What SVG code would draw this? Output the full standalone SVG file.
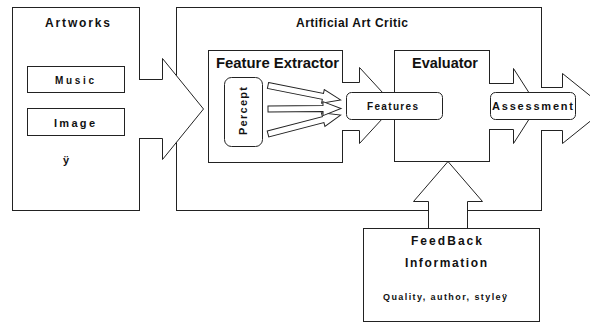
<svg xmlns="http://www.w3.org/2000/svg" width="590" height="323" viewBox="0 0 590 323">
<style>
.box{fill:#fff;stroke:#222;stroke-width:1}
.arr{fill:#fff;stroke:#222;stroke-width:1;stroke-linejoin:miter}
.t{font-family:"Liberation Sans",Arial,sans-serif;font-weight:bold;fill:#111}
.h{font-size:14px}
.m{font-size:12px}
.l{font-size:11px}
.n{font-size:10px}
.s{font-size:9px}
</style>
<rect width="590" height="323" fill="#fff"/>
<g id="artworks">
<rect class="box" x="12.5" y="7.5" width="127" height="203"/>
<text class="t m" x="45" y="27" textLength="65" lengthAdjust="spacing">Artworks</text>
</g>
<g id="music">
<rect class="box" x="27.5" y="66.5" width="97" height="26"/>
<text class="t n" x="55" y="84" textLength="39" lengthAdjust="spacing">Music</text>
</g>
<g id="image">
<rect class="box" x="27.5" y="108.5" width="97" height="27"/>
<text class="t l" x="54" y="127" textLength="41" lengthAdjust="spacing">Image</text>
<text class="t l" x="63" y="164">ÿ</text>
</g>
<g id="critic">
<rect class="box" x="176.5" y="7.5" width="365" height="203"/>
<text class="t m" x="296" y="27" textLength="112" lengthAdjust="spacing">Artificial Art Critic</text>
</g>
<g id="connectors">
<path class="arr" d="M139 79.5H162.5V58.5L203.5 109L162.5 159.5V138.5H139"/>
<path class="arr" d="M541 87.5H562.5V73.5L606 108.5L562.5 143.5V130.5H541"/>
<path class="arr" d="M428.5 229V201.5H413.5L448 161.5L482.5 201.5H467.5V229"/>
</g>
<g id="feature-extractor">
<rect class="box" x="208.5" y="50.5" width="134" height="112"/>
<text class="t h" x="216" y="68" textLength="123" lengthAdjust="spacingAndGlyphs">Feature Extractor</text>
</g>
<g id="evaluator">
<rect class="box" x="394.5" y="50.5" width="95" height="111"/>
<text class="t h" x="412" y="68" textLength="66" lengthAdjust="spacingAndGlyphs">Evaluator</text>
</g>
<g id="connectors-inner">
<path class="arr" d="M342 82.5H359.5V67.5L394.5 105.5L359.5 143.5V130.5H342"/>
<path class="arr" d="M489 83.5H513.5V68.5L537.5 106L513.5 143.5V129.5H489"/>
<polygon class="arr" transform="translate(268,85.5) rotate(11.2)" points="0,-3 56,-3 56,-7 74,0 56,7 56,3 0,3"/>
<polygon class="arr" transform="translate(268,134) rotate(-14.6)" points="0,-3 57,-3 57,-7 75,0 57,7 57,3 0,3"/>
<polygon class="arr" transform="translate(268,109) rotate(-0.4)" points="0,-3 55,-3 55,-7 73,0 55,7 55,3 0,3"/>
</g>
<g id="percept">
<rect class="box" x="224.5" y="77.5" width="38" height="69" rx="7"/>
<text class="t l" transform="translate(247,135) rotate(-90)" x="0" y="0" textLength="48" lengthAdjust="spacing">Percept</text>
</g>
<g id="features">
<rect class="box" x="346.5" y="92.5" width="96" height="27" rx="5"/>
<text class="t n" x="367" y="110" textLength="51" lengthAdjust="spacing">Features</text>
</g>
<g id="assessment">
<rect class="box" x="490.5" y="92.5" width="85" height="27" rx="5"/>
<text class="t l" x="492" y="110" textLength="81" lengthAdjust="spacing">Assessment</text>
</g>
<g id="feedback">
<rect class="box" x="363.5" y="228.5" width="176" height="93"/>
<text class="t m" x="411" y="245" textLength="71" lengthAdjust="spacing">FeedBack</text>
<text class="t m" x="405" y="267" textLength="82" lengthAdjust="spacing">Information</text>
<text class="t s" x="383" y="300" textLength="124" lengthAdjust="spacing">Quality, author, styleÿ</text>
</g>
</svg>
